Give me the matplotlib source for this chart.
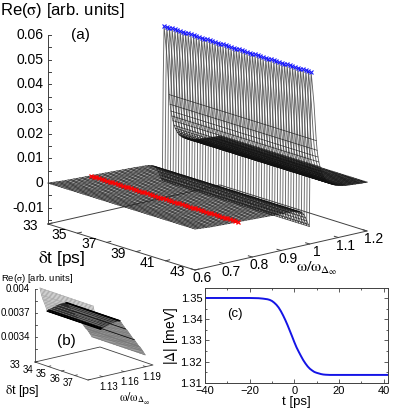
import numpy as np
import matplotlib
matplotlib.use('Agg')
import matplotlib.pyplot as plt

plt.rcParams['font.family'] = ['Liberation Sans', 'DejaVu Sans']
plt.rcParams['mathtext.fontset'] = 'stix'

# (a) spectrum, same profile for each delay
omega_a = [0.60, 0.61, 0.62, 0.63, 0.64, 0.65, 0.66, 0.67, 0.68, 0.69, 0.70, 0.71, 0.72, 0.73, 0.74, 0.75,
           0.76, 0.77, 0.78, 0.79, 0.80, 0.81, 0.82, 0.83, 0.84, 0.85, 0.86, 0.87, 0.88, 0.89, 0.90, 0.91,
           0.92, 0.93, 0.94, 0.95, 0.96, 0.965, 0.97, 0.975, 0.98, 0.985, 0.99, 0.995, 0.999,
           1.002, 1.005, 1.015, 1.023, 1.026, 1.029, 1.032, 1.036, 1.04, 1.044, 1.048, 1.052, 1.056, 1.06,
           1.065, 1.07, 1.075, 1.08, 1.085, 1.09, 1.095, 1.10, 1.105, 1.11, 1.115, 1.12, 1.125, 1.13,
           1.135, 1.14, 1.145, 1.15, 1.155, 1.16, 1.165, 1.17, 1.175, 1.18, 1.185, 1.19, 1.195, 1.20]
sigma_a = [0.0, -0.0001, -0.0002, -0.0003, -0.0004, -0.0005, -0.0006, -0.0006, -0.0007, -0.0007, -0.0008,
           -0.0008, -0.0009, -0.0009, -0.0010, -0.0010, -0.0010, -0.0011, -0.0011, -0.0012, -0.0012, -0.0013,
           -0.0013, -0.0014, -0.0014, -0.0015, -0.0015, -0.0016, -0.0016, -0.0017, -0.0017, -0.0018, -0.0019,
           -0.0019, -0.0020, -0.0021, -0.0024, -0.0026, -0.0029, -0.0034, -0.0042, -0.0055, -0.0070, -0.0085,
           -0.0095, 0.0324, 0.0530, 0.0400, 0.0247, 0.0207, 0.0179, 0.0158, 0.0138, 0.0118, 0.0105, 0.0095,
           0.0086, 0.0078, 0.0072, 0.0067, 0.0062, 0.0058, 0.0055, 0.0052, 0.0049, 0.0047, 0.0045, 0.0044,
           0.0042, 0.0041, 0.0040, 0.0039, 0.0038, 0.0038, 0.0037, 0.0037, 0.0036, 0.0036, 0.0035, 0.0035,
           0.0034, 0.0034, 0.0033, 0.0033, 0.0033, 0.0032, 0.0032]
dt_a = np.linspace(33, 43, 56)
peak_omega = 1.005
peak_sigma = 0.0530
dip_omega = 0.75
dip_sigma = -0.0010
z_ticks_a = [-0.01, 0, 0.01, 0.02, 0.03, 0.04, 0.05, 0.06]
z_labels_a = ['-0.01', '0', '0.01', '0.02', '0.03', '0.04', '0.05', '0.06']
dt_ticks_a = [33, 35, 37, 39, 41, 43]
omega_ticks_a = [0.6, 0.7, 0.8, 0.9, 1.0, 1.1, 1.2]
omega_labels_a = ['0.6', '0.7', '0.8', '0.9', '1', '1.1', '1.2']

# (b) zoom on the high frequency side
omega_b = [1.117, 1.119, 1.121, 1.123, 1.125, 1.127, 1.128, 1.129, 1.130, 1.131, 1.132, 1.133, 1.134, 1.135,
           1.136, 1.137, 1.138, 1.139, 1.140, 1.141, 1.142, 1.143, 1.144, 1.145, 1.146, 1.147, 1.148, 1.149,
           1.150, 1.151, 1.152, 1.153, 1.154, 1.156, 1.158, 1.160, 1.162, 1.164, 1.166, 1.168, 1.170, 1.172,
           1.174, 1.176, 1.178, 1.180, 1.182, 1.184, 1.186, 1.189]
sigma_b = [0.00400, 0.00391, 0.00385, 0.00380, 0.00375, 0.00369, 0.00369, 0.00370, 0.00370, 0.00370, 0.00371,
           0.00371, 0.00371, 0.00372, 0.00372, 0.00372, 0.00372, 0.00373, 0.00373, 0.00373, 0.00373, 0.00374,
           0.00374, 0.00374, 0.00374, 0.00374, 0.00374, 0.00374, 0.00374, 0.00374, 0.00374, 0.00374, 0.00374,
           0.00371, 0.00368, 0.00365, 0.00362, 0.00360, 0.00357, 0.00354, 0.00351, 0.00348, 0.00346, 0.00343,
           0.00340, 0.00337, 0.00335, 0.00332, 0.00329, 0.00324]
dt_b = np.linspace(33, 37, 40)
dark_omega_b = [1.127, 1.128, 1.129, 1.153, 1.154, 1.162, 1.174]
z_ticks_b = [0.004, 0.0037, 0.0034]
z_labels_b = ['0.004', '0.0037', '0.0034']
dt_ticks_b = [33, 34, 35, 36, 37]
omega_ticks_b = [1.13, 1.16, 1.19]

# (c) gap after the pulse
t_c = [-40, -30, -20, -16, -14, -12, -11, -10, -9, -8, -7, -6, -5, -4, -3, -2, -1, 0, 1, 2, 3, 4, 5, 6, 7, 8, 9,
       10, 11, 12, 13, 14, 16, 20, 30, 42]
gap_c = [1.35, 1.35, 1.35, 1.3499, 1.3497, 1.3494, 1.3491, 1.3486, 1.3478, 1.3468, 1.3455, 1.3438, 1.3418,
         1.3396, 1.3372, 1.3346, 1.3320, 1.3293, 1.3268, 1.3247, 1.3227, 1.3208, 1.3192, 1.3178, 1.3167, 1.3159,
         1.3152, 1.3148, 1.3145, 1.3142, 1.3140, 1.3139, 1.3138, 1.3138, 1.3138, 1.3138]

AXC = '#404040'


def proj_a(dt, w, z):
    u = (np.asarray(dt) - 33) / 10
    v = (np.asarray(w) - 0.6) / 0.6
    return 48 + 147*u + 172*v, 224 + 46*u - 39*v - (np.asarray(z) + 0.0166)*2467


def proj_b(dt, w, z):
    u = (np.asarray(dt) - 33) / 4
    v = (np.asarray(w) - 1.11) / 0.09
    return 35 + 53*u + 65*v, 362 + 18*u - 15*v - (np.asarray(z) - 0.00309)*80000


fig = plt.figure(figsize=(4.15, 4.15), dpi=100)
ax = fig.add_axes([0, 0, 1, 1])
ax.set_xlim(0, 415)
ax.set_ylim(415, 0)
ax.axis('off')

# panel a surface
for dt in dt_a:
    x, y = proj_a(dt, np.array(omega_a), np.array(sigma_a))
    ax.plot(x, y, color='#444444', lw=0.62, alpha=0.85, solid_joinstyle='miter', zorder=2)
for w, s in zip(omega_a, sigma_a):
    if 1.0 < w < 1.02:  # no isolines up the wall
        continue
    x, y = proj_a(dt_a, w, s)
    ax.plot(x, y, color='#111111', lw=0.65 if w > 1.05 else 0.5, alpha=0.8, zorder=2)

x, y = proj_a(dt_a, peak_omega, peak_sigma)
ax.plot(x, y, ls='none', marker='x', ms=2.2, mew=0.8, color='#1a1aff', zorder=3)
x, y = proj_a(dt_a, dip_omega, dip_sigma)
ax.plot(x, y, ls='none', marker='x', ms=2.2, mew=0.9, color='#ff0000', zorder=3)

# panel a box
zb = -0.0166
x, y = proj_a([33, 43, 43, 33, 33], [0.6, 0.6, 1.2, 1.2, 0.6], [zb]*5)
ax.plot(x, y, color=AXC, lw=0.7, zorder=1)
x, y = proj_a([33, 33], [0.6, 0.6], [zb, 0.06])
ax.plot(x, y, color=AXC, lw=0.7, zorder=1)
for z in np.arange(-0.015, 0.0601, 0.005):
    x, y = proj_a(33, 0.6, z)
    ax.plot([x, x + 3], [y, y], color=AXC, lw=0.7)
for z, lab in zip(z_ticks_a, z_labels_a):
    x, y = proj_a(33, 0.6, z)
    ax.text(x - 4.5, y, lab, ha='right', va='center', fontsize=10)
for dt in dt_ticks_a:
    x, y = proj_a(dt, 0.6, zb)
    ax.plot([x, x + 4], [y, y - 1], color=AXC, lw=0.7)
    ax.text(x - 18, y + 2, str(dt), ha='center', va='center', fontsize=10)
for w, lab in zip(omega_ticks_a, omega_labels_a):
    x, y = proj_a(43, w, zb)
    ax.plot([x, x - 4], [y, y - 1.2], color=AXC, lw=0.7)
    ax.text(x + 7, y + 8, lab, ha='center', va='center', fontsize=10)

ax.text(0, 10, r'Re($\mathrm{\sigma}$) [arb. units]', ha='left', va='center', fontsize=12)
ax.text(80, 35, '(a)', ha='center', va='center', fontsize=11)
ax.text(62, 258, r'$\mathrm{\delta}$t [ps]', ha='center', va='center', fontsize=12.5)
ax.text(317, 268, r'$\mathrm{\omega/\omega_{\Delta_\infty}}$', ha='center', va='center', fontsize=11.5)

# panel b surface, three stretches of the mesh
w_b = np.array(omega_b)
s_b = np.array(sigma_b)
top = w_b <= 1.127
mid = (w_b >= 1.127) & (w_b <= 1.154)
low = w_b >= 1.154
for dt in dt_b:
    x, y = proj_b(dt, w_b, s_b)
    ax.plot(x[top], y[top], color='#999999', lw=0.55, zorder=2)
    ax.plot(x[mid], y[mid], color='#222222', lw=0.5, zorder=2)
    ax.plot(x[low], y[low], color='#777777', lw=0.6, zorder=2)
for w, s in zip(omega_b, sigma_b):
    x, y = proj_b(dt_b, w, s)
    if w < 1.127:
        ax.plot(x, y, color='#aaaaaa', lw=0.4, zorder=2)
    elif w <= 1.154:
        ax.plot(x, y, color='#222222', lw=0.45, zorder=2)
    else:
        ax.plot(x, y, color='#777777', lw=0.45, zorder=2)
for w in dark_omega_b:
    s = sigma_b[omega_b.index(w)]
    x, y = proj_b(dt_b, w, s)
    ax.plot(x, y, color='black', lw=0.9 if w < 1.16 else 0.5, zorder=3)

# panel b box
zb2 = 0.00309
x, y = proj_b([33, 37, 37, 33, 33], [1.11, 1.11, 1.2, 1.2, 1.11], [zb2]*5)
ax.plot(x, y, color=AXC, lw=0.6, zorder=1)
x, y = proj_b([33, 33], [1.11, 1.11], [zb2, 0.004])
ax.plot(x, y, color=AXC, lw=0.6, zorder=1)
for z in np.arange(0.00325, 0.00401, 0.00015):
    x, y = proj_b(33, 1.11, z)
    ax.plot([x, x + 2], [y, y], color=AXC, lw=0.6)
for z, lab in zip(z_ticks_b, z_labels_b):
    x, y = proj_b(33, 1.11, z)
    ax.text(x - 5, y, lab, ha='right', va='center', fontsize=7)
for dt in dt_ticks_b:
    x, y = proj_b(dt, 1.11, zb2)
    ax.plot([x, x + 2.5], [y, y - 0.6], color=AXC, lw=0.6)
    ax.text(x - 20, y + 3, str(dt), ha='center', va='center', fontsize=7)
for w in omega_ticks_b:
    x, y = proj_b(37, w, zb2)
    ax.plot([x, x - 2.5], [y, y - 0.8], color=AXC, lw=0.6)
    ax.text(x + 6, y + 10, str(w), ha='center', va='center', fontsize=7)

ax.text(1, 278, r'Re($\mathrm{\sigma}$) [arb. units]', ha='left', va='center', fontsize=6.8)
ax.text(66, 341, '(b)', ha='center', va='center', fontsize=11)
ax.text(22, 391, r'$\mathrm{\delta}$t [ps]', ha='center', va='center', fontsize=9)
ax.text(135, 399, r'$\mathrm{\omega/\omega_{\Delta_\infty}}$', ha='center', va='center', fontsize=8.5)

# panel c
axc = fig.add_axes([205/415, 1 - 383/415, 183/415, 95/415])
axc.plot(t_c, gap_c, color='#1414e6', lw=1.4)
axc.set_xlim(-40, 42)
axc.set_ylim(1.31, 1.3547)
axc.set_xticks([-40, -20, 0, 20, 40])
axc.set_yticks([1.31, 1.32, 1.33, 1.34, 1.35])
axc.set_yticklabels(['1.31', '1.32', '1.33', '1.34', '1.35'])
axc.set_xticks([-30, -10, 10, 30], minor=True)
axc.set_yticks([1.315, 1.325, 1.335, 1.345], minor=True)
axc.tick_params(which='major', direction='in', top=True, right=True, length=3, width=0.6, color=AXC)
axc.tick_params(which='minor', direction='in', top=True, right=True, length=1.5, width=0.6, color=AXC)
axc.tick_params(axis='x', labelsize=8, pad=2.5)
axc.tick_params(axis='y', labelsize=8, pad=2)
for sp in axc.spines.values():
    sp.set_linewidth(0.7)
    sp.set_color(AXC)
axc.set_xlabel('t [ps]', fontsize=9.5, labelpad=0)
axc.set_ylabel(r'|$\mathrm{\Delta}$| [meV]', fontsize=10, labelpad=0)
axc.text(-26.5, 1.3424, '(c)', ha='center', va='center', fontsize=9.5)

plt.savefig('out.png', dpi=100)
